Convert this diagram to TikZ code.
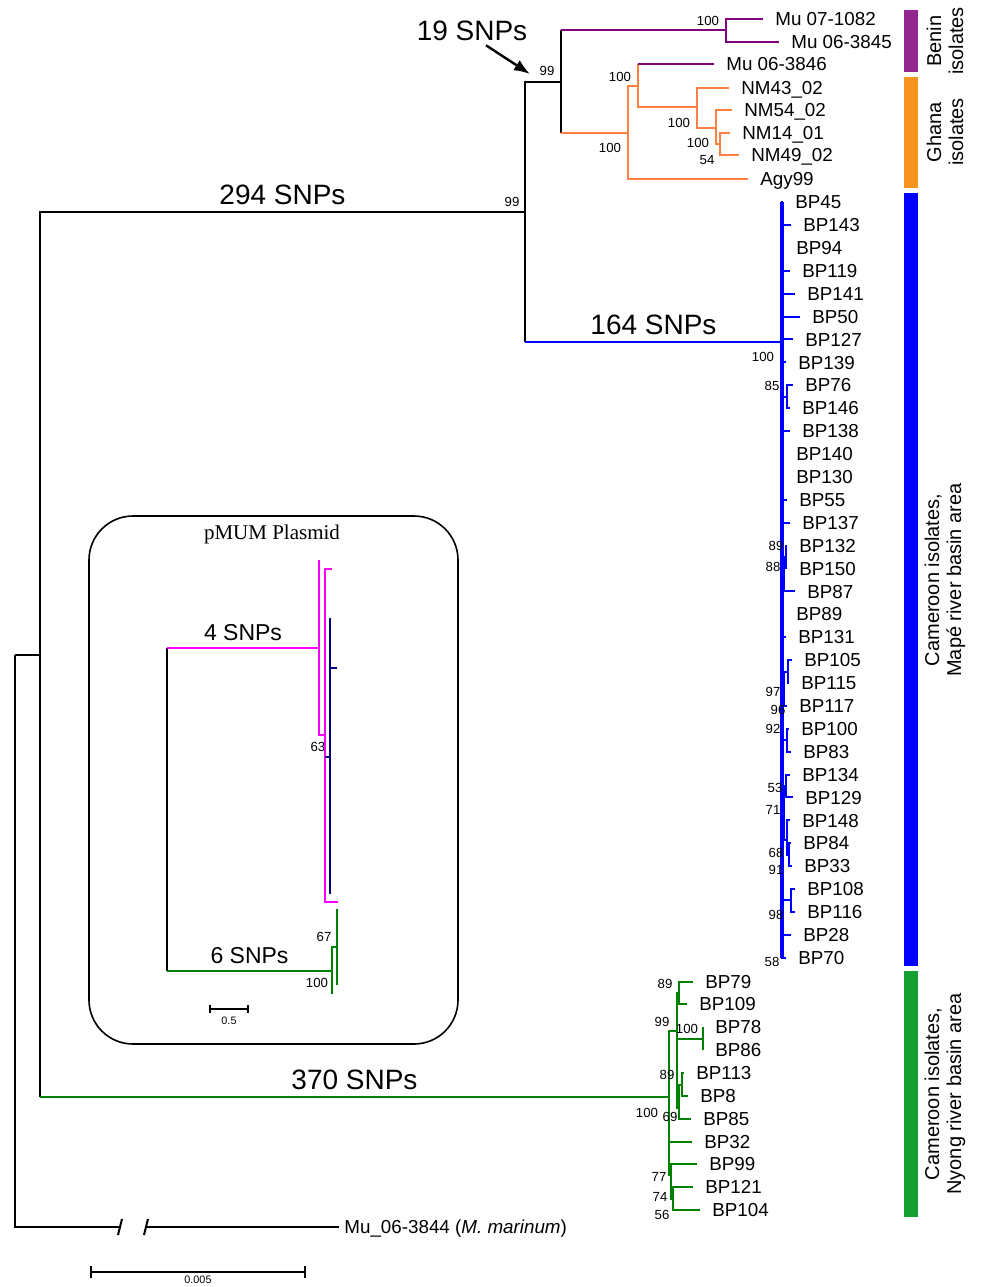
\documentclass[tikz,border=0pt]{standalone}
\usepackage{fontspec}
\setmainfont{Liberation Sans}
\newfontfamily\seriffont{Liberation Serif}
\usetikzlibrary{arrows.meta,positioning}

\definecolor{cpurple}{RGB}{128,0,128}
\definecolor{corange}{RGB}{255,128,64}
\definecolor{cblue}{RGB}{0,0,255}
\definecolor{cgreen}{RGB}{0,128,0}
\definecolor{cmagenta}{RGB}{255,0,255}
\definecolor{cnavy}{RGB}{0,0,128}
\definecolor{barpurple}{RGB}{146,39,143}
\definecolor{barorange}{RGB}{247,148,29}
\definecolor{bargreen}{RGB}{22,160,52}

\begin{document}
\begin{tikzpicture}[
  x=0.5pt,y=-0.5pt,
  br/.style={line width=1pt},
  leaf/.style={inner sep=0.5pt,anchor=west,font=\fontsize{9.4}{11}\selectfont,text height=6.7pt,text depth=0pt},
  boot/.style={inner sep=0pt,font=\fontsize{6.6}{7}\selectfont},
  snp/.style={inner sep=1pt,text=black,font=\fontsize{14}{16}\selectfont},
  snpsmall/.style={inner sep=1pt,text=black,font=\fontsize{11.5}{13}\selectfont},
  side/.style={rotate=90,align=center,font=\fontsize{10}{11}\selectfont},
  pointer/.style={-{Latex[length=8pt,width=6pt]},line width=1.2pt},
  sbar/.style={{Bar[width=6pt]}-{Bar[width=6pt]},line width=1pt},
  smallbar/.style={{Bar[width=4pt]}-{Bar[width=4pt]},line width=0.8pt},
  tiny/.style={inner sep=0.5pt,font=\fontsize{5.4}{6}\selectfont}
]
\useasboundingbox (0,0) rectangle (981,1287);

% backbone
\coordinate (r0) at (15,655);
\coordinate (a0) at (40,655);
\coordinate (a99) at (525,212);
\coordinate (c99) at (561,82);
\coordinate (b0) at (782,342);
\coordinate (g0) at (669,1097);
\coordinate (brk1) at (121,1227);
\coordinate (brk2) at (146,1227);
\coordinate (tog) at (339,1227);

\draw[br] (r0) -- (a0);
\draw[br] (r0) |- (brk1);
\draw[br] (brk2) -- (tog);
\draw[br] ([shift={(-3,8)}]brk1) -- ([shift={(1,-8)}]brk1);
\draw[br] ([shift={(-2,8)}]brk2) -- ([shift={(2,-8)}]brk2);
\node[leaf,right=2pt of tog] (log) {Mu\_06-3844 (\textit{M. marinum})};

\draw[br] (a0) |- node[snp,pos=0.75,above=2pt] (snp294) {294 SNPs} (a99);
\draw[br] (a0) -- (a0|-g0);
\draw[br,cgreen] (a0|-g0) -- node[snp,above=2pt] (snp370) {370 SNPs} (g0);
\draw[br] (a99) |- (c99);
\draw[br] (a99) -- (a99|-b0);
\draw[br,cblue] (a99|-b0) -- node[snp,above=2pt] (snp164) {164 SNPs} (b0);

% Benin / Ghana
\coordinate (p100) at (726,30);
\coordinate (o100) at (628,133);
\coordinate (o100b) at (638,86);
\coordinate (o100c) at (697,107);
\coordinate (o100d) at (716,128);
\coordinate (o54) at (720,144);
\foreach \n/\tx/\ty/\lab in {t1/763/19/Mu 07-1082, t2/779/42/Mu 06-3845, t3/714/64/Mu 06-3846,
  t4/729/88/NM43\_02, t5/732/110/NM54\_02, t6/730/133/NM14\_01, t7/739/155/NM49\_02, t9/748/179/Agy99}
  {\coordinate (\n) at (\tx,\ty);
   \node[leaf,right=5.5pt of \n] (l\n) {\lab};}
\draw[br] (c99|-p100) -- (c99|-o100);
\draw[br,cpurple] (c99|-p100) -- (p100);
\draw[br,corange] (c99|-o100) -- (o100);
\draw[br,cpurple] (p100) |- (t1) (p100) |- (t2);
\draw[br,corange] (o100) |- (o100b) (o100) |- (t9);
\draw[br,corange] (o100b) |- (o100c) (o100b) -- (o100b|-t3);
\draw[br,cpurple] (o100b|-t3) -- (t3);
\draw[br,corange] (o100c) |- (t4) (o100c) |- (o100d);
\draw[br,corange] (o100d) |- (t5) (o100d) |- (o54);
\draw[br,corange] (o54) |- (t6) (o54) |- (t7);
\node[snp] (snp19) at (472,31) {19 SNPs};
\coordinate (tip19) at (530,74);
\draw[pointer] ([xshift=7pt,yshift=-1pt]snp19.south) -- (tip19);

% Cameroon, Mape
\coordinate (b85) at (787,397);
\coordinate (b89) at (784,573);
\coordinate (b88) at (786,557);
\coordinate (b96) at (784,697);
\coordinate (b97) at (788,672);
\coordinate (b92) at (787,740);
\coordinate (b71) at (784,808);
\coordinate (b53) at (786,786);
\coordinate (b68) at (787,840);
\coordinate (b91) at (789,855);
\coordinate (b98) at (791,900);
\draw[br,cblue] (b0) |- (b85) (b0) |- (b89) (b89) |- (b88) (b0) |- (b96) (b96) |- (b97)
  (b0) |- (b92) (b0) |- (b71) (b71) |- (b53) (b71) |- (b68) (b68) |- (b91) (b0) |- (b98);
\foreach \i/\tx/\pn/\lab in {0/783/b0/BP45, 1/791/b0/BP143, 2/784/b0/BP94, 3/790/b0/BP119,
  4/795/b0/BP141, 5/800/b0/BP50, 6/793/b0/BP127, 7/786/b0/BP139, 8/793/b85/BP76, 9/790/b85/BP146,
  10/790/b0/BP138, 11/784/b0/BP140, 12/784/b0/BP130, 13/787/b0/BP55, 14/790/b0/BP137,
  15/787/b88/BP132, 16/787/b88/BP150, 17/795/b89/BP87, 18/784/b0/BP89, 19/786/b0/BP131,
  20/792/b97/BP105, 21/789/b97/BP115, 22/787/b96/BP117, 23/789/b92/BP100, 24/791/b92/BP83,
  25/790/b53/BP134, 26/793/b53/BP129, 27/790/b68/BP148, 28/791/b91/BP84, 29/792/b91/BP33,
  30/795/b98/BP108, 31/795/b98/BP116, 32/791/b0/BP28, 33/786/b0/BP70}
{
  \coordinate (tb\i) at (\tx,{202+22.9*\i});
  \draw[br,cblue] (\pn) |- (tb\i);
  \node[leaf,right=5.5pt of tb\i] (lb\i) {\lab};
}
\draw[cblue,line width=1.8pt] (b0|-tb0) -- (b0|-tb33);

% Cameroon, Nyong
\coordinate (gA) at (677,1031);
\coordinate (g89a) at (679,993);
\coordinate (g100) at (703,1039);
\coordinate (g69) at (679,1108);
\coordinate (g89b) at (682,1085);
\coordinate (g77) at (671,1175);
\coordinate (g74) at (673,1199);
\draw[br,cgreen] (g0) |- (gA) (g0) |- (g77) (gA) |- (g89a) (gA) |- (g100) (gA) |- (g69)
  (g69) |- (g89b) (g77) |- (g74);
\foreach \n/\tx/\ty/\pn/\lab in {g1/693/982/g89a/BP79, g2/687/1004/g89a/BP109, g3/703/1027/g100/BP78,
  g4/703/1050/g100/BP86, g5/684/1073/g89b/BP113, g6/688/1096/g89b/BP8, g7/691/1119/g69/BP85,
  g8/692/1142/g0/BP32, g9/697/1164/g77/BP99, g10/693/1187/g74/BP121, g11/700/1210/g74/BP104}
{
  \coordinate (\n) at (\tx,\ty);
  \draw[br,cgreen] (\pn) |- (\n);
  \node[leaf,right=5.5pt of \n] (l\n) {\lab};
}

% support values
\foreach \x/\y/\v [count=\k] in {547/71/99, 512/202/99, 708/21/100, 620/77/100, 610/148/100,
  679/123/100, 698/143/100, 707/160/54, 763/357/100, 772/386/85, 776/546/89, 773/567/88,
  773/692/97, 778/710/96, 773/729/92, 775/788/53, 773/810/71, 776/853/68, 776/870/91,
  776/915/98, 772/962/58, 665/984/89, 662/1022/99, 687/1029/100, 667/1075/89, 647/1113/100,
  670/1117/69, 659/1177/77, 660/1197/74, 662/1215/56, 318/747/63, 324/937/67, 317/983/100}
  \node[boot] (bs\k) at (\x,\y) {\v};

% pMUM plasmid inset
\draw[line width=0.8pt,rounded corners=22pt] (89,516) rectangle (458,1044);
\node[font=\seriffont\fontsize{10.5}{12}\selectfont] (ptitle) at (272,534) {pMUM Plasmid};
\coordinate (i0) at (167,648);
\coordinate (im) at (319,648);
\coordinate (ig) at (332,971);
\coordinate (im2) at (325,735);
\coordinate (inv) at (330,757);
\coordinate (ig2) at (337,947);
\coordinate (ti1) at (319,560);
\coordinate (ti2) at (332,569);
\coordinate (ti3) at (338,902);
\coordinate (ti4) at (330,618);
\coordinate (ti5) at (337,668);
\coordinate (ti6) at (330,894);
\coordinate (ti7) at (337,909);
\coordinate (ti8) at (337,985);
\coordinate (ti9) at (332,994);
\draw[br] (i0) -- (i0|-ig);
\draw[br,cmagenta] (i0) -- node[snpsmall,above=2pt] (snp4) {4 SNPs} (im);
\draw[br,cgreen] (i0|-ig) -- node[snpsmall,above=2pt] (snp6) {6 SNPs} (ig);
\draw[br,cmagenta] (im) -- (ti1) (im) |- (im2) (im2) |- (ti2) (im2) |- (ti3);
\draw[br,cnavy] (im2|-inv) -- (inv) (inv) |- (ti4) (inv) |- (ti5) (inv) |- (ti6);
\draw[br,cgreen] (ig) |- (ig2) (ig) |- (ti9) (ig2) |- (ti7) (ig2) |- (ti8);
\coordinate (isc1) at (209,1009);
\coordinate (isc2) at (249,1009);
\draw[smallbar] (isc1) -- node[tiny,below=3pt] (isclab) {0.5} (isc2);

% scale bar
\coordinate (sc1) at (90,1272);
\coordinate (sc2) at (306,1272);
\draw[sbar] (sc1) -- node[tiny,below=1pt] (sclab) {0.005} (sc2);

% groups
\fill[barpurple] (904,10) rectangle (918,72);
\fill[barorange] (904,77) rectangle (918,188);
\fill[cblue] (904,193) rectangle (918,966);
\fill[bargreen] (904,971) rectangle (918,1217);
\node[side] (gbenin) at (945,41) {Benin\\isolates};
\node[side] (gghana) at (945,132) {Ghana\\isolates};
\node[side] (gmape) at (945,580) {Cameroon isolates,\\Map\'e river basin area};
\node[side] (gnyong) at (945,1094) {Cameroon isolates,\\Nyong river basin area};
\end{tikzpicture}
\end{document}
